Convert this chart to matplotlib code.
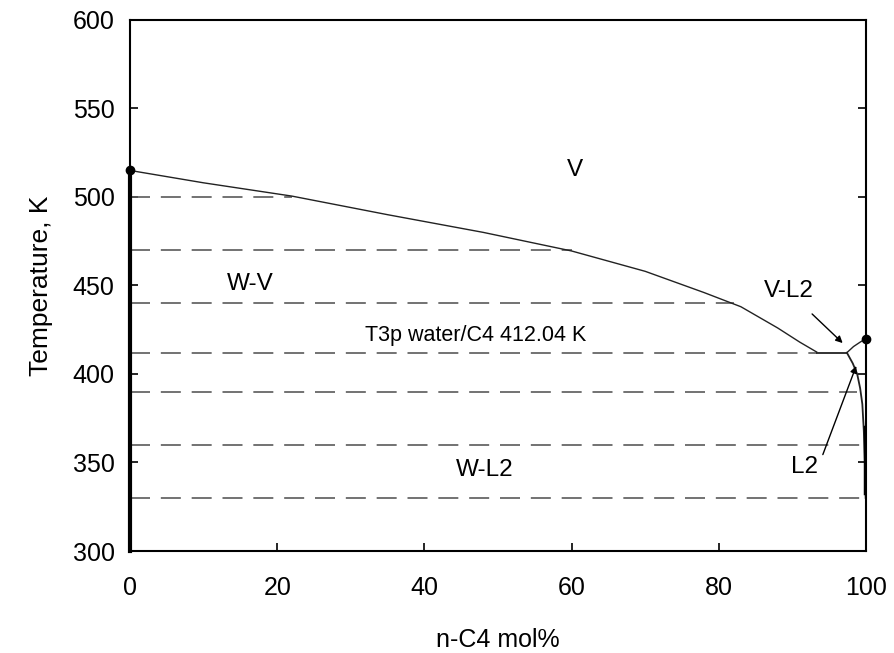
"""Water / n-C4 phase diagram (T vs composition)."""

import matplotlib

matplotlib.use("Agg")
import matplotlib.pyplot as plt

plt.rcParams["font.family"] = ["Liberation Sans", "DejaVu Sans"]

# dew curve V / W-V boundary
dew_x = [0.0, 10.0, 22.0, 35.0, 48.0, 60.0, 70.0, 78.0, 83.0, 88.0, 91.0, 93.3]
dew_t = [515.0, 508.0, 500.5, 490.0, 480.0, 469.5, 458.0, 446.0, 438.0, 426.0, 418.0, 412.4]

# three-phase line end and V-L2 dew curve on C4 side
t3p = 412.04
t3p_x = [93.3, 97.4]
vl2_x = [97.4, 98.3, 99.2, 100.0]
vl2_t = [412.04, 415.5, 418.0, 420.0]

# L2 bubble curve near pure C4
l2_x = [97.4, 98.2, 98.8, 99.2, 99.5, 99.7, 99.85, 99.95]
l2_t = [412.04, 406.0, 400.0, 392.0, 383.0, 368.0, 350.0, 330.0]

# tie lines (dashed): temperature and end composition
tie_t = [500.0, 470.0, 440.0, t3p, 390.0, 360.0, 330.0]
tie_end = [22.0, 60.0, 82.0, 93.3, 98.8, 99.5, 100.0]

# critical points
crit_x = [0.0, 100.0]
crit_t = [515.0, 420.0]

fig = plt.figure(figsize=(8.94, 6.53), dpi=100)
ax = fig.add_axes([0.1454, 0.1562, 0.8233, 0.8132])

for t, xe in zip(tie_t, tie_end):
    ax.plot([0, xe], [t, t], color="#5a5a5a", lw=1.2, dashes=(12, 6.5))

ax.plot(dew_x, dew_t, color="#222222", lw=1.0)
ax.plot(t3p_x, [t3p, t3p], color="#222222", lw=1.3)
ax.plot(vl2_x, vl2_t, color="#222222", lw=1.0)
ax.plot(l2_x, l2_t, color="#222222", lw=1.3)
ax.plot([99.9, 99.9], [370, 333], color="black", lw=2.5)
ax.plot([0, 0], [300, 515], color="black", lw=3.0, clip_on=False)
ax.plot(crit_x, crit_t, "o", color="black", ms=6, clip_on=False, zorder=5)

txt = dict(fontsize=17.5, ha="center", va="center")
ax.text(60.5, 515, "V", **txt)
ax.text(16.3, 451, "W-V", **txt)
ax.text(47.0, 422, "T3p water/C4 412.04 K", fontsize=15.5, ha="center", va="center")
ax.text(48.2, 346, "W-L2", **txt)
ax.text(89.5, 447, "V-L2", **txt)
ax.text(91.7, 347.5, "L2", **txt)

ax.annotate("", xy=(97.1, 416.4), xytext=(92.4, 435),
            arrowprops=dict(arrowstyle="-|>", color="black", lw=1.0, mutation_scale=10))
ax.annotate("", xy=(98.8, 406), xytext=(94.0, 353),
            arrowprops=dict(arrowstyle="-|>", color="black", lw=1.0, mutation_scale=10))

ax.set_xlim(0, 100)
ax.set_ylim(300, 600)
ax.set_xticks(range(0, 101, 20))
ax.set_yticks(range(300, 601, 50))
ax.tick_params(direction="in", length=6, width=1.2, labelsize=18,
               right=True, top=False)
ax.tick_params(axis="x", pad=18)
ax.tick_params(axis="y", pad=11)
for spine in ax.spines.values():
    spine.set_linewidth(1.5)

ax.set_xlabel("n-C4 mol%", fontsize=18, labelpad=20)
ax.set_ylabel("Temperature, K", fontsize=19, labelpad=14)

fig.savefig("out.png", dpi=100)
